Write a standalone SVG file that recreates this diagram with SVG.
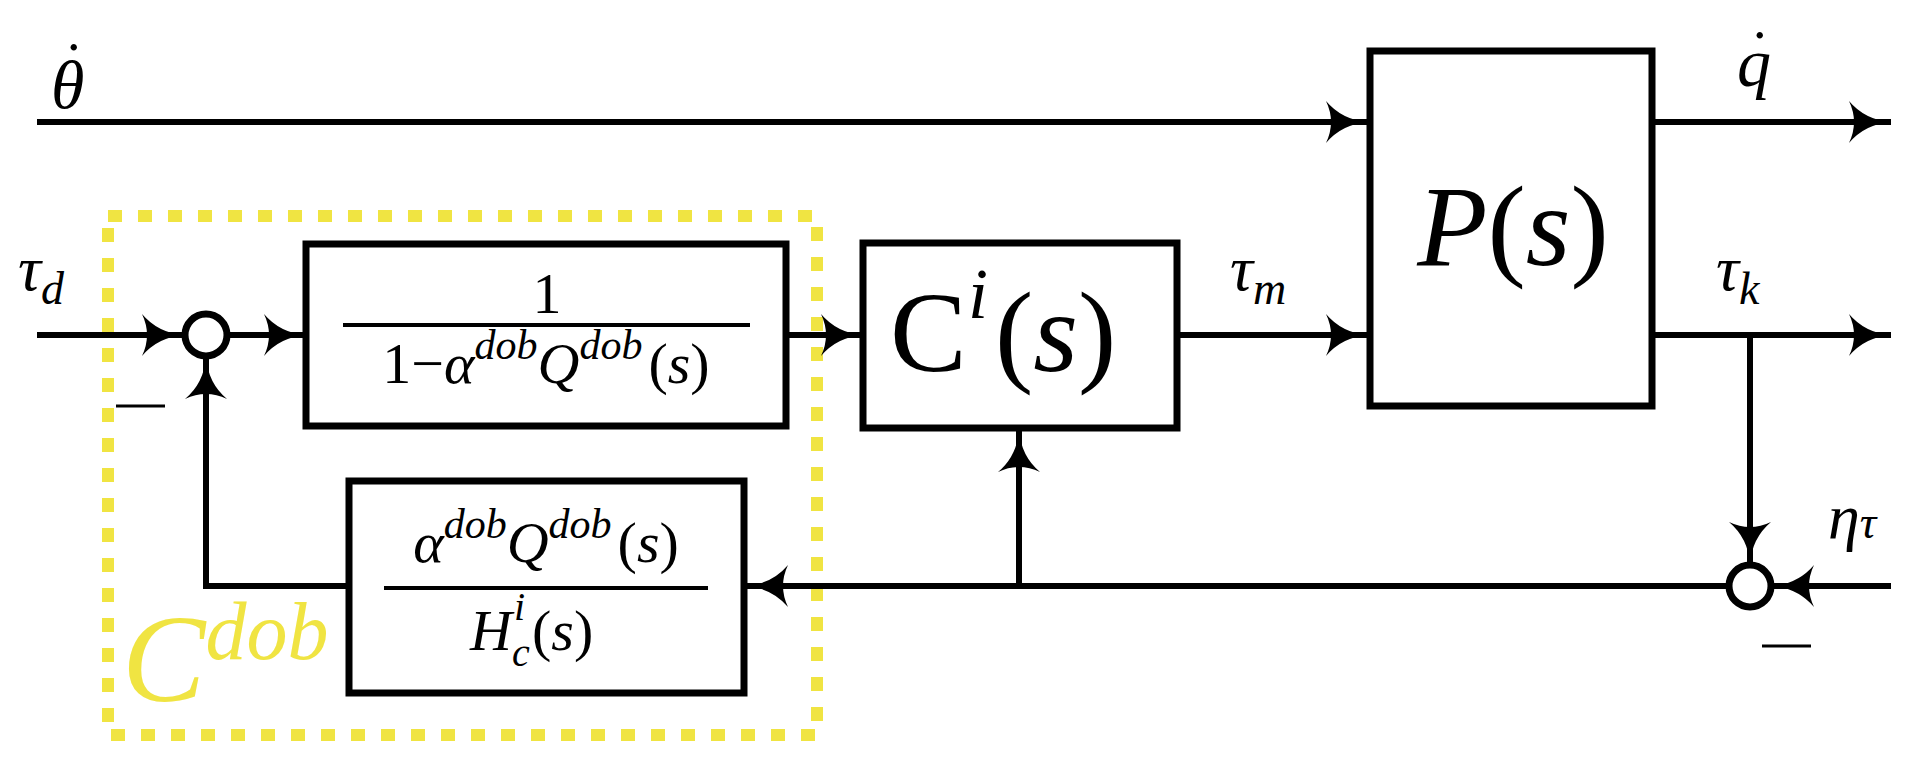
<svg xmlns="http://www.w3.org/2000/svg" width="1921" height="766" viewBox="0 0 1921 766">
<style>
.ln{stroke:#000;stroke-width:6;fill:none}
.bx{stroke:#000;stroke-width:7;fill:#fff}
.t{font-family:"Liberation Serif","DejaVu Serif",serif;font-style:italic;fill:#000}
.r{font-family:"Liberation Serif","DejaVu Serif",serif;fill:#000}
.i{font-style:italic}
</style>
<defs>
<marker id="a" markerUnits="userSpaceOnUse" markerWidth="50" markerHeight="50" refX="46" refY="25" orient="auto">
<path d="M46,25 Q20,27 4,46 Q14,25 4,4 Q20,23 46,25Z" fill="#000"/>
</marker>
</defs>
<rect x="108" y="216" width="709" height="519" fill="none" stroke="#f0e442" stroke-width="12" stroke-dasharray="14 16"/>
<g id="connectors">
<line class="ln" x1="37" y1="122" x2="1368" y2="122" marker-end="url(#a)"/>
<line class="ln" x1="1654" y1="122" x2="1891" y2="122" marker-end="url(#a)"/>
<line class="ln" x1="37" y1="335" x2="184" y2="335" marker-end="url(#a)"/>
<line class="ln" x1="229" y1="335" x2="306" y2="335" marker-end="url(#a)"/>
<line class="ln" x1="786" y1="335" x2="863" y2="335" marker-end="url(#a)"/>
<line class="ln" x1="1177" y1="335" x2="1368" y2="335" marker-end="url(#a)"/>
<line class="ln" x1="1654" y1="335" x2="1891" y2="335" marker-end="url(#a)"/>
<line class="ln" x1="1750" y1="335" x2="1750" y2="564" marker-end="url(#a)"/>
<line class="ln" x1="1891" y1="586" x2="1772" y2="586" marker-end="url(#a)"/>
<line class="ln" x1="1727" y1="586" x2="746" y2="586" marker-end="url(#a)"/>
<line class="ln" x1="1019" y1="586" x2="1019" y2="430" marker-end="url(#a)"/>
<polyline class="ln" points="349,586 206,586 206,357" marker-end="url(#a)"/>
<line x1="116" y1="406" x2="165" y2="406" stroke="#000" stroke-width="3"/>
<line x1="1762" y1="646" x2="1811" y2="646" stroke="#000" stroke-width="3"/>
</g>
<g id="sum1"><circle cx="206" cy="335" r="21" class="bx"/></g>
<g id="sum2"><circle cx="1750" cy="586" r="21" class="bx"/></g>
<g id="box1">
<rect x="306" y="244" width="480" height="182" class="bx"/>
<text class="r" x="547" y="313" font-size="58" text-anchor="middle">1</text>
<line x1="343" y1="325" x2="750" y2="325" stroke="#000" stroke-width="4"/>
<text class="r" x="546" y="383" font-size="58" text-anchor="middle">1−<tspan class="i">α</tspan><tspan class="i" font-size="42" dy="-24">dob</tspan><tspan class="i" dy="24">Q</tspan><tspan class="i" font-size="42" dy="-24">dob</tspan><tspan dx="6" dy="24">(</tspan><tspan class="i">s</tspan>)</text>
</g>
<g id="box2">
<rect x="349" y="481" width="395" height="212" class="bx"/>
<text class="r" x="546" y="562" font-size="58" text-anchor="middle"><tspan class="i">α</tspan><tspan class="i" font-size="42" dy="-24">dob</tspan><tspan class="i" dy="24">Q</tspan><tspan class="i" font-size="42" dy="-24">dob</tspan><tspan dx="6" dy="24">(</tspan><tspan class="i">s</tspan>)</text>
<line x1="384" y1="588" x2="708" y2="588" stroke="#000" stroke-width="4"/>
<text class="t" x="470" y="650" font-size="58">H</text>
<text class="t" x="514" y="620" font-size="40">i</text>
<text class="t" x="512" y="666" font-size="40">c</text>
<text class="r" x="532" y="650" font-size="58">(<tspan class="i">s</tspan>)</text>
</g>
<g id="ci">
<rect x="863" y="243" width="314" height="185" class="bx"/>
<text class="r" x="890" y="371" font-size="115">C</text>
<text class="t" x="968" y="318" font-size="72">i</text>
<text class="r" x="995" y="371" font-size="115">(<tspan class="i">s</tspan>)</text>
</g>
<g id="plant">
<rect x="1370" y="51" width="282" height="355" class="bx"/>
<text class="r" x="1513" y="265" font-size="115" text-anchor="middle"><tspan class="i">P</tspan>(<tspan class="i">s</tspan>)</text>
</g>
<text class="t" x="51" y="108" font-size="68">θ</text>
<text class="r" x="67" y="50" font-size="54">.</text>
<text class="t" x="1737" y="86" font-size="68">q</text>
<text class="r" x="1753" y="38" font-size="54">.</text>
<text class="t" x="18" y="290" font-size="64">τ<tspan font-size="46" dy="14">d</tspan></text>
<text class="t" x="1230" y="290" font-size="64">τ<tspan font-size="46" dy="14">m</tspan></text>
<text class="t" x="1716" y="290" font-size="64">τ<tspan font-size="46" dy="14">k</tspan></text>
<text class="t" x="1828" y="538" font-size="64">η<tspan font-size="46">τ</tspan></text>
<text class="t" x="122" y="701" font-size="125" style="fill:#f0e442">C<tspan font-size="82" dy="-42">dob</tspan></text>
</svg>
